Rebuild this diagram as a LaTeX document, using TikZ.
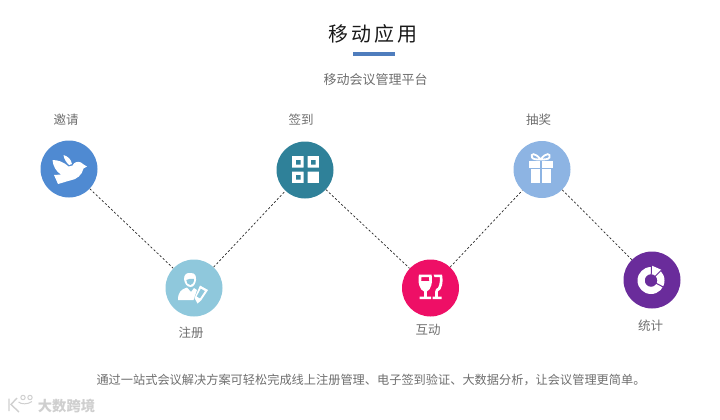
\documentclass[tikz,border=0pt]{standalone}
\usepackage{fontspec}
\newfontfamily\cjk{Noto Sans CJK SC}
\usetikzlibrary{calc}
\definecolor{txtgray}{HTML}{6E6E6E}
\definecolor{cblue}{HTML}{4F8AD2}
\definecolor{csky}{HTML}{8FC8DC}
\definecolor{cteal}{HTML}{2F8199}
\definecolor{cpink}{HTML}{EE0F66}
\definecolor{clblue}{HTML}{8DB4E3}
\definecolor{cpurple}{HTML}{6A2C9B}
\definecolor{cbar}{HTML}{4F7DBD}
\definecolor{wmark}{HTML}{CFCFCF}
\tikzset{
  x=1pt,y=-1pt,
  every node/.style={font=\cjk},
  disc/.style={circle,draw=none,minimum size=57pt,inner sep=0pt},
  lab/.style={text=txtgray,font=\cjk\fontsize{12.5}{14}\selectfont,inner sep=0pt},
  link/.style={draw=black!85,line width=0.7pt,dash pattern=on 2.2pt off 2pt},
  icon/.style={fill=white,draw=none},
}
\begin{document}
\begin{tikzpicture}
\useasboundingbox (0,0) rectangle (720,420);
% title
\node[inner sep=0pt,text=black!90,font=\cjk\fontsize{20}{24}\selectfont] (title) at (372.5,34) {移\kern3pt 动\kern3pt 应\kern3pt 用};
\fill[cbar] (353,52) rectangle (395,56);
\node[lab,font=\cjk\fontsize{13}{15}\selectfont] (sub) at (375.5,80) {移动会议管理平台};
% discs
\node[disc,fill=cblue] (a) at (69,169) {};
\node[disc,fill=csky] (b) at (194,288) {};
\node[disc,fill=cteal] (c) at (305,170) {};
\node[disc,fill=cpink] (d) at (430.5,288) {};
\node[disc,fill=clblue] (e) at (542,169.5) {};
\node[disc,fill=cpurple] (f) at (652,280) {};
% connectors
\draw[link] (a) -- (b);
\draw[link] (b) -- (c);
\draw[link] (c) -- (d);
\draw[link] (d) -- (e);
\draw[link] (e) -- (f);
% labels
\node[lab] (la) at (66,120) {邀请};
\node[lab] (lb) at (191,333) {注册};
\node[lab] (lc) at (301,120) {签到};
\node[lab] (ld) at (428,330) {互动};
\node[lab] (le) at (538.5,120) {抽奖};
\node[lab] (lf) at (650.5,326) {统计};
% bottom
\node[lab,font=\cjk\fontsize{12.2}{14}\selectfont] (foot) at (371,379.5) {通过一站式会议解决方案可轻松完成线上注册管理、电子签到验证、大数据分析，让会议管理更简单。};
% bird: upper wing
\fill[icon] (63.5,155) .. controls (68,156.5) and (71,159) .. (72,164)
  -- (69,165) .. controls (66,162) and (64,159) .. (63.5,155) -- cycle;
% bird: body
\fill[icon] (52.5,160) .. controls (58,160) and (64,162) .. (68.5,166.5)
  -- (72.5,165.5) .. controls (74,162) and (78,161) .. (81,162.5)
  .. controls (83,163.5) and (84,165.5) .. (87,166.5)
  -- (83.5,168.5) .. controls (82,175) and (77,179.5) .. (70,180.5)
  .. controls (66,181.5) and (62,183) .. (58,184)
  -- (54,175) -- (61,174.5)
  .. controls (56,171.5) and (53,166) .. (52.5,160) -- cycle;
% person
\fill[icon] (178,300) .. controls (178,292) and (181,289.5) .. (187,287.5)
  -- (191,292) -- (194,288) .. controls (195,288.5) and (196,289) .. (197,290)
  -- (193.5,300) -- cycle;
\fill[icon] (184,279) .. controls (184,274) and (187,272.5) .. (191,273)
  .. controls (195,273) and (196.5,276) .. (196,280)
  .. controls (195.5,284) and (193.5,287) .. (190.5,287)
  .. controls (187,287) and (184.5,283.5) .. (184,279) -- cycle;
\fill[csky] (186.3,280) .. controls (188,279) and (191,278.5) .. (194,279)
  .. controls (194,282.5) and (192.5,285) .. (190.5,285)
  .. controls (188,285) and (186.5,283) .. (186.3,280) -- cycle;
\fill[icon,even odd rule] (200,285.5) -- (208,290) -- (201,300.5) -- (197.5,303.5) -- (194.5,298) -- cycle
  (200.8,288.5) -- (205,291) -- (200,298.5) -- (196.5,296.5) -- cycle;
% QR
\fill[icon] (292,155.5) rectangle (319,183);
\fill[cteal] (292,167.5) rectangle (319,171.5) (303.5,155.5) rectangle (307.5,183);
\fill[cteal] (296,160) rectangle (300.5,164.5) (311,160) rectangle (315.5,164.5) (296,175) rectangle (300.5,179.5);
% glasses
\begin{scope}[even odd rule]
\fill[icon] (419,274.5) -- (431.5,274.5) .. controls (433,282) and (431,290) .. (426.8,291.5)
  -- (426.8,296.5) -- (431,296.5) -- (431,299) -- (419.5,299) -- (419.5,296.5) -- (424,296.5) -- (424,291.5)
  .. controls (419.5,290) and (417.5,282) .. (419,274.5) -- cycle
  (421.5,277) -- (429,277) -- (429.3,281) -- (421.2,281) -- cycle;
\fill[icon] (433.5,274.5) -- (442,274.5) .. controls (443.5,282) and (442,290) .. (437.8,291.5)
  -- (437.8,296.5) -- (441.5,296.5) -- (441.5,299) -- (432.5,299) -- (432.5,296.5) -- (435.2,296.5) -- (435.2,291.5)
  -- (436,289) .. controls (439,288.5) and (440.2,283) .. (439.8,277) -- (434.5,277) -- cycle;
\end{scope}
% gift
\fill[icon] (528.5,160.5) rectangle (539.7,168);
\fill[icon] (541.5,160.5) rectangle (553,168);
\fill[icon] (531,168.8) rectangle (539.7,182.5);
\fill[icon] (541.5,168.8) rectangle (550.5,182.5);
\draw[white,line width=1.8pt] (540.6,159.5) .. controls (535,152) and (530,153.5) .. (532,157.5) .. controls (533,159.5) and (537,159.5) .. (540.6,159.5)
  .. controls (546,152) and (551,153.5) .. (549.5,157.5) .. controls (548.5,159.5) and (544,159.5) .. (540.6,159.5);
% donut
\coordinate (dc) at (651,280.5);
\fill[icon,even odd rule] (dc) circle (13.5) (dc) circle (6.3);
\fill[icon] ($(dc)+(-85:13)$) -- ($(dc)+(-88:15)$) -- ($(dc)+(-45:15)$) -- ($(dc)+(-45:13)$) -- cycle;
\draw[cpurple,line width=1pt] ($(dc)+(-88:5.5)$) -- ($(dc)+(-88:15.5)$);
\draw[cpurple,line width=1pt] ($(dc)+(-45:5.5)$) -- ($(dc)+(-45:15.5)$);
\draw[cpurple,line width=1pt] ($(dc)+(28:5.5)$) -- ($(dc)+(28:15)$);
% watermark
\draw[wmark,line width=1.4pt] (9,398.5) -- (9,411) (17,398) -- (11,404.5) -- (19,412);
\draw[wmark,line width=1pt] (23,397.5) circle (2.2) (30,397.5) circle (2.2)
  (18.5,402) .. controls (21,404.5) and (28,404.5) .. (32,401.5);
\node[inner sep=0pt,text=wmark,font=\cjk\bfseries\fontsize{14.3}{16}\selectfont] (wm) at (66.5,406.5) {大数跨境};
\end{tikzpicture}
\end{document}
